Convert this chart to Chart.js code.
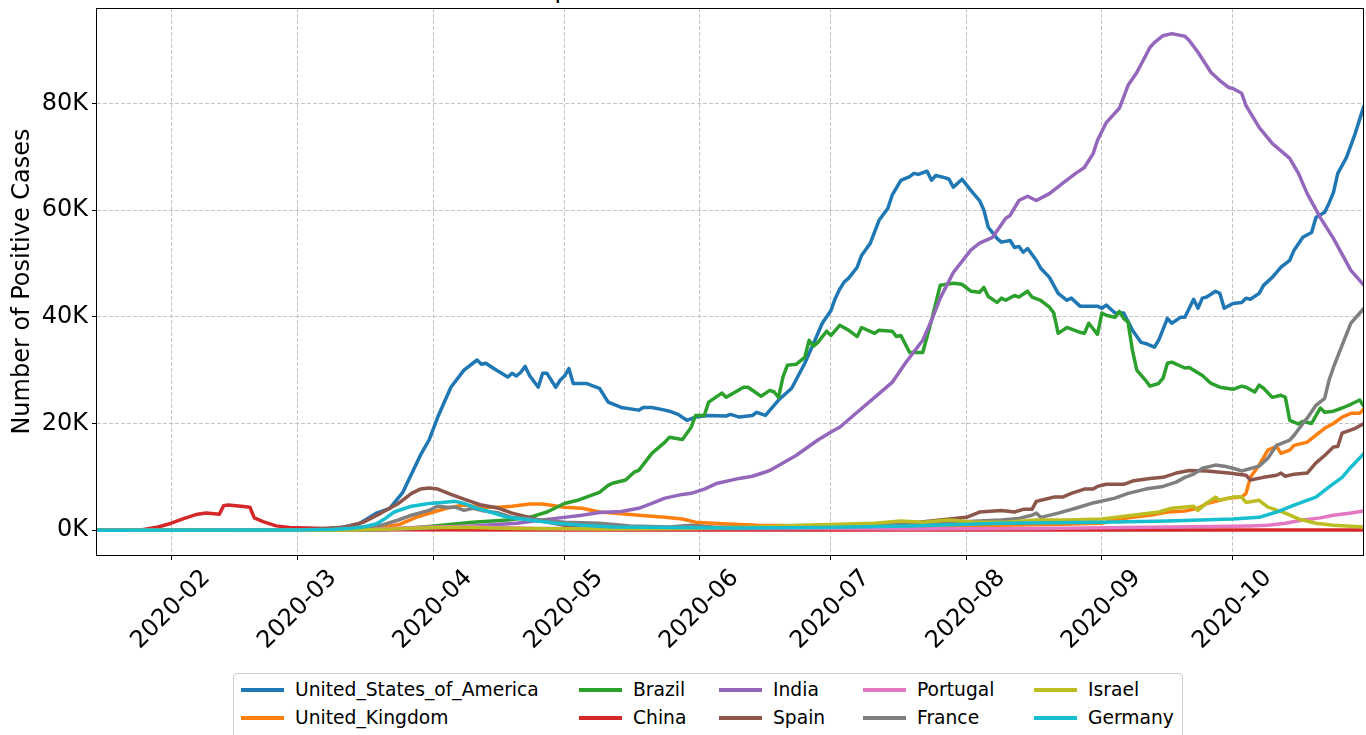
<!DOCTYPE html>
<html>
<head>
<meta charset="utf-8">
<script src="https://cdn.jsdelivr.net/npm/chart.js@4.4.1/dist/chart.umd.min.js"></script>
<style>
  html, body { margin:0; padding:0; background:#fff; }
  body { width:1366px; height:735px; overflow:hidden; position:relative; font-family:"DejaVu Sans", sans-serif; }
  #title { position:absolute; left:97px; width:1267px; top:-22px; text-align:center; font-size:24px; line-height:24px; color:#000; white-space:nowrap; }
  #wrap { position:absolute; left:0; top:0; width:1366px; height:665px; }
  #legend { position:absolute; left:233px; top:673px; width:950px; height:80px; border:1px solid #d0d0d0; border-radius:4px; box-sizing:border-box; background:#fff; }
  .li { position:absolute; height:22px; line-height:22px; font-size:18.7px; color:#000; white-space:nowrap; }
  .li span.sw { position:absolute; left:0; top:9px; width:43px; height:3.5px; }
  .li span.tx { position:absolute; left:54px; top:0; }
</style>
</head>
<body>
<div id="title">Spread of Covid-19 in the World</div>
<div id="wrap"><canvas id="c" width="1366" height="665"></canvas></div>
<div id="legend"></div>
<script>
// Days counted from 2020-01-01 (day 0); values in thousands of cases
const monthTicks  = [31, 60, 91, 121, 152, 182, 213, 244, 274];
const monthLabels = ['2020-02','2020-03','2020-04','2020-05','2020-06','2020-07','2020-08','2020-09','2020-10'];
const yTicks = [0, 20, 40, 60, 80];

const seriesNames  = ['United_States_of_America','United_Kingdom','Brazil','China','India','Spain','Portugal','France','Israel','Germany'];
const seriesColors = ['#1f77b4','#ff7f0e','#2ca02c','#d62728','#9467bd','#8c564b','#e377c2','#7f7f7f','#bcbd22','#17becf'];

const usa = [[14,0],[50,0],[60,0.05],[66,0.2],[70,0.5],[74,1.2],[78,3.2],[81,4.1],[84,7.1],[88,14],[90,16.9],[92,21.2],[95,26.8],[98,30],[101,31.9],[102,31.1],[103,31.3],[105,30.2],[108,28.7],[109,29.4],[110,28.9],[111,29.6],[112,30.7],[113,29],[115,26.8],[116,29.4],[117,29.4],[119,26.8],[120,28.1],[121,28.9],[122,30.3],[123,27.5],[126,27.5],[129,26.6],[131,24],[134,23],[138,22.5],[139,23],[141,23],[144,22.5],[145,22.3],[147,21.7],[149,20.6],[151,21.2],[154,21.5],[158,21.4],[159,21.7],[161,21.2],[164,21.5],[165,22.1],[167,21.5],[170,24.4],[173,26.6],[176,31.3],[178,35],[180,38.8],[182,41.2],[183,43.5],[184,45.2],[185,46.5],[186,47.2],[188,49.3],[189,51.5],[191,53.8],[193,58.1],[195,60.3],[196,62.8],[198,65.6],[200,66.3],[201,66.9],[202,66.7],[204,67.3],[205,65.6],[206,66.5],[208,66.1],[209,65.8],[210,64.3],[212,65.8],[214,63.7],[216,61.8],[217,60],[218,56.8],[220,54.7],[221,54],[223,54.3],[224,53],[225,53.2],[226,52.1],[227,52.8],[229,50.6],[230,49.1],[232,47.4],[234,44.4],[236,43.1],[237,43.5],[239,42],[243,42],[244,41.6],[245,42.2],[247,40.7],[249,40.7],[251,37.5],[253,35.2],[254,35],[256,34.3],[257,35.6],[259,39.7],[260,38.8],[262,39.9],[263,39.9],[265,43.3],[266,41.6],[267,43.5],[268,43.7],[270,44.8],[271,44.4],[272,41.6],[274,42.5],[276,42.7],[277,43.5],[278,43.3],[280,44.4],[281,45.9],[283,47.4],[285,49.3],[287,50.6],[288,52.5],[290,54.9],[292,55.8],[293,58.6],[295,59.6],[296,61.3],[297,63.3],[298,66.9],[300,69.9],[302,74.4],[304,79.6]];

const uk = [[14,0],[60,0],[68,0.1],[75,0.4],[80,0.7],[83,1],[87,2.4],[91,3.4],[94,4.1],[98,4.7],[102,4.3],[106,4.3],[109,4.5],[113,4.9],[116,4.9],[121,4.3],[125,4.1],[129,3.4],[132,3.2],[138,2.8],[144,2.4],[148,2.1],[151,1.5],[157,1.2],[165,0.9],[180,0.8],[195,0.7],[210,0.8],[221,0.9],[235,1.1],[244,1.3],[248,2.1],[251,2.4],[255,2.8],[259,3.4],[263,3.6],[266,4.1],[268,5],[271,5.6],[273,6],[276,6.2],[277,6.9],[278,9.9],[280,12.2],[282,15],[284,15.7],[285,14.4],[287,15],[288,15.9],[291,16.5],[293,17.8],[295,19.1],[297,20],[299,21.2],[301,21.9],[303,21.9],[304,22.7]];

const brazil = [[14,0],[75,0],[80,0.1],[86,0.4],[93,0.9],[100,1.5],[108,1.9],[113,2.4],[117,3.4],[121,5],[124,5.6],[126,6.2],[129,7.1],[131,8.4],[132,8.8],[135,9.4],[137,10.9],[138,11.2],[141,14.4],[144,16.5],[145,17.4],[148,17],[150,19.3],[151,21.5],[153,21.5],[154,24],[157,25.7],[158,24.9],[162,26.8],[163,26.8],[166,25.1],[168,26.2],[169,25.9],[170,24.9],[171,28.7],[172,30.9],[174,31.1],[176,32.4],[177,35.6],[178,34.5],[179,35.2],[181,37.3],[182,36.5],[184,38.4],[186,37.5],[188,36.3],[189,38],[192,36.9],[193,37.5],[196,37.3],[197,36.3],[198,36.5],[200,33.3],[203,33.3],[205,39.3],[207,45.9],[210,46.3],[212,46.1],[214,44.8],[216,44.6],[217,45.5],[218,43.8],[220,42.7],[221,43.5],[222,43.1],[224,44],[225,43.7],[227,44.8],[228,43.7],[230,43.1],[232,41.8],[233,40.7],[234,36.9],[236,38],[239,37.1],[240,36.9],[241,38.8],[243,36.7],[244,40.7],[245,40.3],[247,39.9],[248,41],[249,39.7],[250,39],[251,33.7],[252,30],[254,28.1],[255,27],[257,27.5],[258,28.5],[259,31.3],[260,31.5],[263,30.4],[264,30.5],[267,29],[269,27.5],[271,26.8],[274,26.4],[276,27],[277,26.8],[279,25.9],[280,27.2],[281,26.6],[283,24.9],[285,25.3],[286,24.9],[287,20.6],[289,19.9],[290,20.4],[292,20],[294,22.9],[295,22.1],[297,22.3],[299,22.9],[301,23.6],[303,24.4],[304,23.2]];

const china = [[14,0],[24,0.05],[28,0.6],[31,1.3],[34,2.2],[37,3.0],[39,3.2],[42,3.0],[43,4.6],[44,4.7],[47,4.5],[49,4.3],[50,2.3],[52,1.6],[55,0.8],[58,0.5],[62,0.4],[66,0.3],[70,0.15],[80,0.08],[120,0.03],[304,0.02]];

const india = [[14,0],[70,0],[80,0.1],[90,0.4],[100,0.8],[110,1.3],[115,1.8],[120,2.3],[125,2.8],[129,3.3],[134,3.5],[138,4.1],[141,5],[144,6],[148,6.7],[150,6.9],[153,7.7],[156,8.8],[161,9.7],[164,10.1],[167,10.9],[168,11.2],[171,12.6],[174,14],[179,16.9],[182,18.4],[184,19.3],[188,22.1],[192,24.9],[196,27.7],[199,31.3],[203,35.6],[205,39.3],[207,43.5],[210,48.3],[214,52.5],[216,53.8],[219,54.9],[222,58.5],[223,59],[225,61.8],[227,62.6],[229,61.8],[232,63.1],[235,65],[238,66.9],[240,68],[242,70.6],[243,73.1],[245,76.4],[248,79.1],[250,83.4],[252,85.8],[255,90.5],[256,91.4],[258,92.7],[260,93.1],[263,92.6],[264,91.8],[266,89.6],[269,85.8],[271,84.3],[273,83],[274,82.8],[276,81.9],[277,79.6],[280,75.5],[283,72.5],[284,71.8],[287,69.7],[289,66.9],[291,63.1],[294,58.6],[297,54.7],[301,48.7],[304,45.9]];

const spain = [[14,0],[55,0],[62,0.1],[66,0.3],[71,0.6],[75,1.5],[79,3.2],[83,5],[86,6.9],[88,7.7],[90,7.9],[92,7.7],[95,6.7],[98,5.8],[102,4.7],[106,4.1],[109,3.2],[113,2.4],[117,1.5],[121,0.9],[130,0.5],[150,0.4],[170,0.3],[180,0.5],[190,0.9],[200,1.3],[207,1.9],[213,2.4],[216,3.4],[221,3.7],[224,3.4],[226,3.9],[228,3.9],[229,5.4],[231,5.8],[233,6.2],[235,6.2],[237,6.9],[240,7.7],[242,7.7],[243,8.2],[245,8.6],[249,8.6],[251,9.2],[255,9.7],[258,9.9],[261,10.7],[264,11.2],[268,11.1],[273,10.7],[277,10.3],[278,9.4],[281,9.9],[284,10.3],[285,10.7],[286,10.1],[288,10.5],[291,10.7],[293,12.6],[295,14],[297,15.6],[298,15.7],[299,18.2],[302,19.1],[304,20]];

const portugal = [[14,0],[65,0],[75,0.1],[82,0.3],[90,0.6],[98,0.7],[105,0.5],[115,0.3],[130,0.25],[160,0.3],[180,0.3],[200,0.2],[230,0.3],[250,0.5],[270,0.7],[278,0.8],[282,0.9],[286,1.3],[290,1.9],[294,2.3],[297,2.8],[301,3.2],[304,3.6]];

const france = [[14,0],[55,0],[62,0.05],[68,0.2],[72,0.4],[76,0.7],[79,0.9],[83,1.9],[86,2.8],[90,3.7],[92,4.5],[94,4.3],[96,4.3],[98,3.7],[100,4.1],[102,3.7],[106,3.2],[109,2.4],[113,2.1],[121,1.5],[129,1.3],[136,0.8],[145,0.6],[150,0.9],[155,0.6],[165,0.5],[180,0.6],[190,0.9],[200,1.1],[210,1.5],[216,1.7],[221,1.9],[225,2.2],[228,2.8],[229,3.2],[230,2.4],[234,3.2],[238,4.1],[242,5.1],[247,6],[250,6.9],[254,7.7],[258,8.2],[261,9],[263,9.9],[265,10.5],[267,11.6],[270,12.2],[272,12],[274,11.6],[276,11.1],[280,12],[282,13.5],[284,15.9],[287,16.9],[288,17.8],[290,20],[291,21],[293,23.4],[295,24.7],[296,28.1],[297,30.5],[299,34.7],[301,38.8],[304,41.6]];

const israel = [[14,0],[70,0],[78,0.1],[85,0.3],[92,0.5],[100,0.5],[110,0.3],[130,0.2],[150,0.3],[165,0.6],[175,0.9],[184,1.1],[192,1.3],[198,1.7],[203,1.5],[209,1.9],[215,1.5],[222,1.5],[229,1.9],[236,1.9],[244,2.1],[251,2.8],[257,3.4],[260,4.1],[265,4.5],[266,3.7],[268,5.1],[270,6.2],[271,5.6],[274,6.2],[276,6.2],[277,5.2],[280,5.6],[282,4.3],[286,3.2],[289,2.1],[293,1.3],[297,0.9],[304,0.6]];

const germany = [[14,0],[60,0.02],[68,0.1],[72,0.3],[75,0.6],[78,1.2],[80,2.2],[82,3.4],[86,4.5],[90,5],[93,5.2],[96,5.4],[98,5],[101,4.1],[104,3.4],[108,2.4],[113,1.9],[119,1.3],[125,0.9],[132,0.6],[145,0.5],[160,0.4],[180,0.5],[200,0.8],[221,1.3],[244,1.5],[259,1.7],[274,2.1],[280,2.4],[284,3.4],[288,4.7],[293,6.2],[296,8.1],[299,9.9],[301,11.8],[304,14.4]];

const seriesData = [usa, uk, brazil, china, india, spain, portugal, france, israel, germany];

const FONT = "'DejaVu Sans', sans-serif";

const datasets = seriesNames.map((name, i) => ({
  label: name,
  data: seriesData[i].map(p => ({x: p[0], y: p[1]})),
  borderColor: seriesColors[i],
  backgroundColor: seriesColors[i],
  borderWidth: 3.5,
  pointRadius: 0,
  tension: 0,
  fill: false,
  order: seriesNames.length - i,
  borderJoinStyle: 'round',
  borderCapStyle: 'butt'
}));

const framePlugin = {
  id: 'frame',
  afterDatasetsDraw(chart) {
    const {ctx, chartArea: a} = chart;
    ctx.save();
    ctx.strokeStyle = '#000';
    ctx.lineWidth = 1;
    ctx.strokeRect(Math.round(a.left) - 0.5, Math.round(a.top) + 0.5, Math.round(a.right - a.left), Math.round(a.bottom - a.top));
    ctx.restore();
  }
};

new Chart(document.getElementById('c'), {
  type: 'line',
  data: { datasets },
  plugins: [framePlugin],
  options: {
    responsive: false,
    devicePixelRatio: 1,
    animation: false,
    layout: { padding: { top: 8, right: 2, left: 0, bottom: 0 } },
    plugins: { legend: { display: false }, tooltip: { enabled: false }, title: { display: false } },
    scales: {
      x: {
        type: 'linear',
        min: 14,
        max: 304,
        afterBuildTicks: s => { s.ticks = monthTicks.map(v => ({value: v})); },
        afterFit: s => { s.height = 110; s.paddingLeft = 0; s.paddingRight = 0; },
        grid: { color: '#c4c4c4', lineWidth: 1, tickLength: 5, tickColor: '#000', tickWidth: 1, tickBorderDash: [] },
        border: { display: false, dash: [4, 2] },
        ticks: {
          autoSkip: false,
          maxRotation: 45,
          minRotation: 45,
          padding: 4,
          labelOffset: 35,
          color: '#000',
          font: { family: FONT, size: 24 },
          callback: v => { const k = monthTicks.indexOf(v); return k >= 0 ? monthLabels[k] : ''; }
        }
      },
      y: {
        type: 'linear',
        min: -4.66,
        max: 97.9,
        afterBuildTicks: s => { s.ticks = yTicks.map(v => ({value: v})); },
        afterFit: s => { s.width = 97; s.paddingTop = 0; s.paddingBottom = 0; },
        grid: { color: '#c4c4c4', lineWidth: 1, tickLength: 5, tickColor: '#000', tickWidth: 1, tickBorderDash: [] },
        border: { display: false, dash: [4, 2] },
        ticks: {
          padding: 4,
          color: '#000',
          font: { family: FONT, size: 24 },
          callback: v => v + 'K'
        },
        title: {
          display: true,
          text: 'Number of Positive Cases',
          color: '#000',
          font: { family: FONT, size: 24 },
          padding: { top: 8, bottom: 0 }
        }
      }
    }
  }
});

// Legend (matplotlib-style, 5 columns filled column-wise)
const legendCols = [7, 345, 485, 629, 800];
const legendRows = [5, 33];
const leg = document.getElementById('legend');
seriesNames.forEach((name, i) => {
  const col = Math.floor(i / 2), row = i % 2;
  const d = document.createElement('div');
  d.className = 'li';
  d.style.left = legendCols[col] + 'px';
  d.style.top = legendRows[row] + 'px';
  d.innerHTML = '<span class="sw" style="background:' + seriesColors[i] + '"></span><span class="tx"></span>';
  d.querySelector('.tx').textContent = name;
  leg.appendChild(d);
});
</script>
</body>
</html>
